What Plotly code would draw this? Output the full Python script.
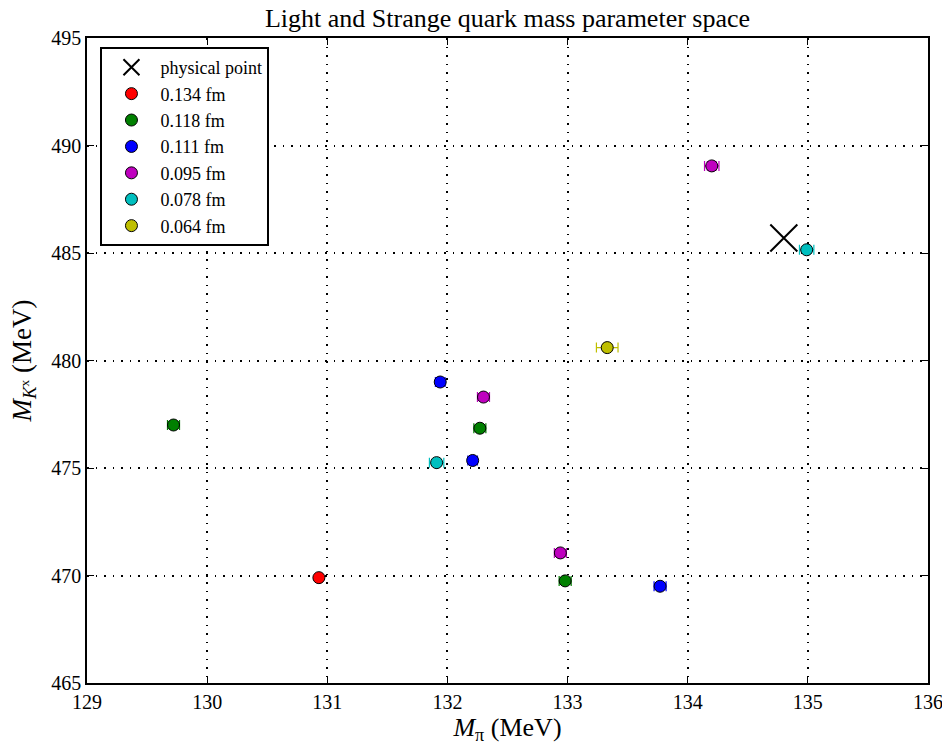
import plotly.graph_objects as go

# ---- data ----
labels = ["0.134 fm", "0.118 fm", "0.111 fm", "0.095 fm", "0.078 fm", "0.064 fm"]
colors = ["#ff0000", "#008000", "#0000ff", "#bf00bf", "#00bfbf", "#bfbf00"]
m_pi = [
    [130.93],
    [129.72, 132.27, 132.98],
    [131.94, 132.21, 133.77],
    [134.20, 132.30, 132.94],
    [134.99, 131.91],
    [133.33],
]
m_k = [
    [469.9],
    [477.0, 476.85, 469.75],
    [479.0, 475.35, 469.5],
    [489.05, 478.3, 471.05],
    [485.15, 475.25],
    [480.6],
]
m_pi_err = [
    [0.02],
    [0.05, 0.05, 0.05],
    [0.04, 0.04, 0.05],
    [0.06, 0.05, 0.05],
    [0.06, 0.06],
    [0.09],
]
m_k_err = [
    [0.1],
    [0.15, 0.15, 0.15],
    [0.15, 0.15, 0.15],
    [0.2, 0.15, 0.15],
    [0.15, 0.15],
    [0.15],
]
phys_pi = [134.8]
phys_k = [485.7]

x_ticks = [129, 130, 131, 132, 133, 134, 135, 136]
y_ticks = [465, 470, 475, 480, 485, 490, 495]

FONT = "Liberation Serif"

fig = go.Figure()
fig.add_trace(go.Scatter(
    x=phys_pi, y=phys_k, mode="markers", name="physical point",
    marker=dict(symbol="x-thin", size=27, color="black",
                line=dict(width=2, color="black")),
))
for lab, col, xs, ys, xe, ye in zip(labels, colors, m_pi, m_k, m_pi_err, m_k_err):
    fig.add_trace(go.Scatter(
        x=xs, y=ys, mode="markers", name=lab,
        marker=dict(symbol="circle", size=12, color=col,
                    line=dict(width=1, color="black")),
        error_x=dict(type="data", array=xe, color=col, thickness=1.2, width=5),
        error_y=dict(type="data", array=ye, color=col, thickness=1.2, width=5),
    ))

axis_common = dict(
    showline=True, linecolor="black", linewidth=1.5, mirror="ticks",
    ticks="inside", ticklen=7, tickcolor="black", tickwidth=1,
    showgrid=True, gridcolor="black", griddash="1.5px,7px", gridwidth=1.5,
    zeroline=False, automargin=False, ticklabeloverflow="allow",
    tickfont=dict(family=FONT, size=20, color="black"),
)

fig.update_layout(
    width=942, height=745,
    paper_bgcolor="white", plot_bgcolor="white",
    margin=dict(l=87, r=14, t=38, b=62, autoexpand=False),
    title=dict(text="Light and Strange quark mass parameter space",
               x=0.5, xanchor="center", xref="paper", y=0.988, yanchor="top",
               automargin=False,
               font=dict(family=FONT, size=26, color="black")),
    xaxis=dict(range=[129, 136], tickvals=x_ticks,
               ticktext=[str(v) for v in x_ticks],
               title=dict(text="<i>M</i><sub>π</sub> (MeV)", standoff=2,
                          font=dict(family=FONT, size=26, color="black")),
               **axis_common),
    yaxis=dict(range=[465, 495], tickvals=y_ticks,
               ticktext=[str(v) for v in y_ticks],
               title=dict(text="<i>M</i><sub><i>K</i><sup>x</sup></sub> (MeV)", standoff=12,
                          font=dict(family=FONT, size=27, color="black")),
               **axis_common),
    legend=dict(x=0.016, y=0.986, xanchor="left", yanchor="top",
                bgcolor="white", bordercolor="black", borderwidth=2,
                font=dict(family=FONT, size=18, color="black"),
                tracegroupgap=0, itemsizing="trace", itemwidth=48),
    showlegend=True,
)

fig.write_html("out.html", config={"displayModeBar": False},
               post_script="document.body.style.margin='0px';document.body.style.overflow='hidden';")
